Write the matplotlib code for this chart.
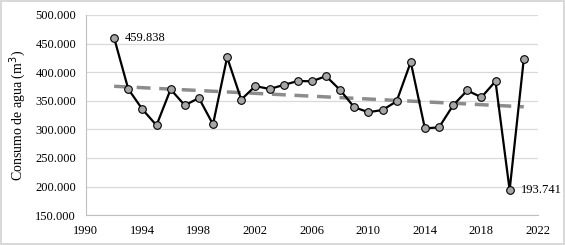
import matplotlib.pyplot as plt
import numpy as np
from matplotlib.ticker import FuncFormatter

plt.rcParams['font.family'] = ['Liberation Serif', 'DejaVu Serif']

years = list(range(1992, 2022))
consumo = [459838, 370500, 335000, 307000, 370000, 342000, 354750, 308700,
           426000, 352000, 375700, 370500, 377500, 384500, 384000, 393000,
           368750, 338500, 330000, 333750, 349000, 417750, 301700, 303400,
           342000, 368000, 356000, 384000, 193741, 422400]
labelled = {1992: '459.838', 2020: '193.741'}

fig = plt.figure(figsize=(5.65, 2.45), dpi=100)
fig.patch.set_edgecolor('#d9d9d9')
fig.patch.set_linewidth(1.5)
ax = fig.add_axes([0.152, 0.122, 0.8, 0.817])

# linear trend (Excel-style)
coef = np.polyfit(years, consumo, 1)
trend = np.polyval(coef, years)
ax.plot(years, trend, color='#8c8c8c', lw=2.5, ls=(0, (4, 2.5)), zorder=2)

ax.plot(years, consumo, color='black', lw=1.6, marker='o', ms=5.5,
        mfc='#a6a6a6', mec='black', mew=0.8, zorder=3)

for yr, txt in labelled.items():
    v = consumo[years.index(yr)]
    ax.annotate(txt, (yr, v), xytext=(8, 0), textcoords='offset points',
                va='center', ha='left', fontsize=9, annotation_clip=False)

ax.set_xlim(1990, 2022)
ax.set_ylim(150000, 500000)
ax.set_xticks(range(1990, 2023, 4))
ax.set_yticks(range(150000, 500001, 50000))
ax.yaxis.set_major_formatter(FuncFormatter(lambda v, p: f'{int(v):,}'.replace(',', '.')))
ax.tick_params(labelsize=9, length=0, pad=7)
ax.grid(axis='y', color='#d9d9d9', lw=0.9)
ax.set_axisbelow(True)
for s in ['top', 'right']:
    ax.spines[s].set_visible(False)
ax.spines['left'].set_color('#bfbfbf')
ax.spines['bottom'].set_color('#bfbfbf')
ax.set_ylabel('Consumo de agua (m$^3$)', fontsize=10, labelpad=5)

fig.savefig('out.png', dpi=100, edgecolor=fig.get_edgecolor())
